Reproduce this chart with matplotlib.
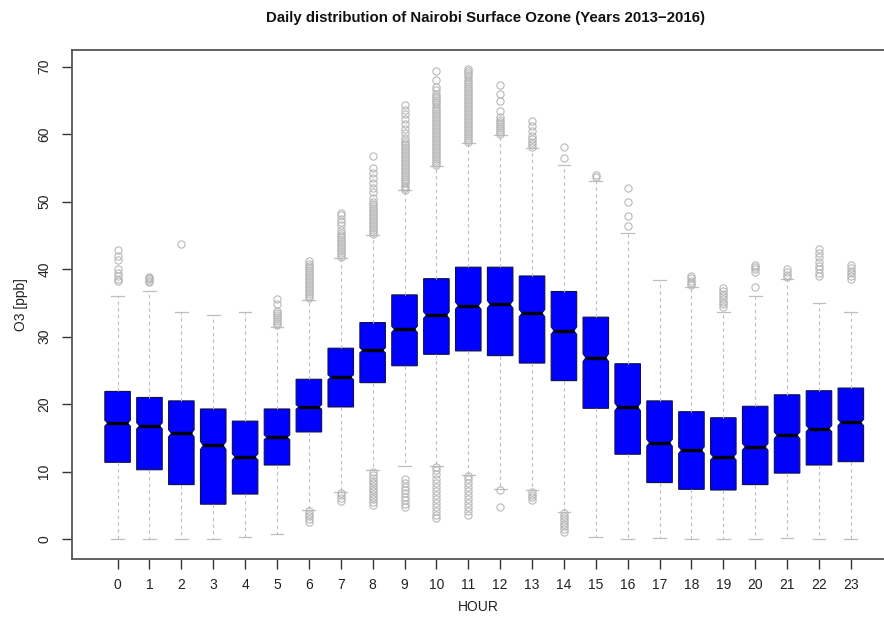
import matplotlib.pyplot as plt
import numpy as np

plt.rcParams['font.family'] = ['Liberation Sans', 'DejaVu Sans']

# hourly summary of surface ozone [ppb]
hours = list(range(24))
q1 = [11.4, 10.3, 8.1, 5.2, 6.7, 11.0, 15.9, 19.6, 23.2, 25.7, 27.4, 27.9,
      27.2, 26.1, 23.5, 19.4, 12.6, 8.4, 7.4, 7.3, 8.1, 9.8, 11.0, 11.5]
med = [17.2, 16.8, 15.7, 13.9, 12.2, 15.1, 19.6, 24.0, 28.0, 31.1, 33.2, 34.6,
       34.8, 33.5, 30.9, 26.9, 19.6, 14.3, 13.2, 12.2, 13.7, 15.4, 16.4, 17.3]
q3 = [21.9, 21.0, 20.5, 19.3, 17.5, 19.3, 23.7, 28.3, 32.1, 36.2, 38.6, 40.3,
      40.3, 39.0, 36.7, 32.9, 26.0, 20.5, 18.9, 18.0, 19.7, 21.4, 22.0, 22.4]
whisker_low = [0.0, 0.0, 0.0, 0.0, 0.3, 0.8, 4.4, 7.0, 10.2, 10.8, 10.9, 9.5,
               7.4, 7.3, 4.0, 0.3, 0.0, 0.15, 0.0, 0.0, 0.0, 0.15, 0.0, 0.0]
whisker_high = [36.1, 36.8, 33.6, 33.2, 33.6, 31.5, 35.4, 41.6, 45.1, 51.7, 55.3, 58.7,
                59.9, 57.9, 55.5, 53.1, 45.4, 38.4, 37.4, 33.6, 36.1, 38.5, 35.0, 33.6]
n_obs = 1400  # roughly one value per day over four years

upper_outliers = [
    [38.2, 38.6, 39.0, 39.5, 40.0, 41.3, 42.0, 42.8],
    [38.1, 38.3, 38.5, 38.7, 38.9],
    [43.7],
    [],
    [],
    [31.7, 32.0, 32.3, 32.6, 32.9, 33.2, 33.5, 33.8, 34.9, 35.6],
    [35.7, 36.0, 36.3, 36.6, 36.9, 37.2, 37.5, 37.8, 38.1, 38.4, 38.7, 39.0,
     39.3, 39.6, 39.9, 40.2, 40.5, 40.8, 41.2],
    [41.8, 42.1, 42.4, 42.7, 43.0, 43.3, 43.6, 43.9, 44.2, 44.5, 44.8, 45.1,
     45.4, 45.8, 46.6, 47.0, 47.5, 48.0, 48.4],
    [45.2, 45.5, 45.8, 46.1, 46.4, 46.7, 47.0, 47.3, 47.6, 47.9, 48.2, 48.5,
     48.8, 49.1, 49.4, 49.7, 50.0, 50.6, 51.4, 52.0, 52.8, 53.5, 54.3, 55.0, 56.7],
    [51.8, 52.1, 52.4, 52.7, 53.0, 53.3, 53.6, 53.9, 54.2, 54.5, 54.8, 55.1,
     55.4, 55.7, 56.0, 56.3, 56.6, 56.9, 57.2, 57.5, 57.8, 58.1, 58.4, 58.7,
     59.0, 59.5, 60.2, 60.8, 61.5, 62.3, 63.0, 63.6, 64.3],
    [55.4, 55.7, 56.0, 56.3, 56.6, 56.9, 57.2, 57.5, 57.8, 58.1, 58.4, 58.7,
     59.0, 59.3, 59.6, 59.9, 60.2, 60.5, 60.8, 61.1, 61.4, 61.7, 62.0, 62.3,
     62.6, 62.9, 63.2, 63.5, 63.8, 64.1, 64.4, 64.7, 65.0, 65.3, 65.6, 66.0,
     66.5, 67.0, 68.0, 69.4],
    [58.8, 59.1, 59.4, 59.7, 60.0, 60.3, 60.6, 60.9, 61.2, 61.5, 61.8, 62.1,
     62.4, 62.7, 63.0, 63.3, 63.6, 63.9, 64.2, 64.5, 64.8, 65.1, 65.4, 65.7,
     66.0, 66.3, 66.6, 66.9, 67.2, 67.5, 67.8, 68.1, 68.4, 68.7, 69.0, 69.3, 69.7],
    [60.0, 60.3, 60.6, 60.9, 61.2, 61.5, 61.8, 62.1, 62.5, 63.4, 64.9, 66.0, 67.3],
    [58.1, 58.5, 58.9, 59.3, 59.7, 60.4, 61.2, 62.0],
    [56.5, 58.1],
    [53.6, 54.0],
    [46.4, 47.9, 50.0, 52.0],
    [],
    [37.6, 38.0, 38.3, 38.7, 39.0],
    [34.4, 34.8, 35.2, 35.6, 36.0, 36.4, 36.8, 37.2],
    [37.4, 39.6, 40.0, 40.3, 40.6],
    [38.8, 39.2, 39.6, 40.0],
    [39.0, 39.5, 40.0, 40.5, 41.1, 41.8, 42.4, 43.0],
    [38.6, 39.0, 39.4, 39.8, 40.2, 40.6],
]
lower_outliers = [
    [], [], [], [], [], [],
    [2.6, 3.0, 3.4, 3.8, 4.2],
    [5.7, 6.1, 6.5, 6.8],
    [5.1, 5.5, 5.9, 6.3, 6.7, 7.1, 7.5, 7.9, 8.3, 8.7, 9.1, 9.5, 9.9],
    [4.8, 5.3, 5.8, 6.3, 6.8, 7.3, 7.8, 8.3, 8.9],
    [3.1, 3.6, 4.2, 4.8, 5.4, 6.0, 6.6, 7.2, 7.8, 8.4, 9.0, 9.6, 10.2, 10.7],
    [3.6, 4.2, 4.8, 5.4, 6.0, 6.6, 7.2, 7.8, 8.4, 9.0, 9.4],
    [4.8, 7.3],
    [5.8, 6.2, 6.6, 7.0],
    [1.1, 1.5, 1.9, 2.3, 2.7, 3.1, 3.5, 3.9],
    [], [], [], [], [], [], [], [], [],
]

stats = []
for i in range(len(hours)):
    notch = 1.58 * (q3[i] - q1[i]) / np.sqrt(n_obs)
    stats.append({
        'med': med[i], 'q1': q1[i], 'q3': q3[i],
        'whislo': whisker_low[i], 'whishi': whisker_high[i],
        'cilo': med[i] - notch, 'cihi': med[i] + notch,
        'fliers': upper_outliers[i] + lower_outliers[i],
    })

fig = plt.figure(figsize=(8.84, 6.21), dpi=100)
ax = fig.add_axes([72 / 884, 1 - 559 / 621, 1 - 72 / 884, (559 - 50) / 621])

grey = '#bdbdbd'
width = 0.8
parts = ax.bxp(stats, positions=hours, widths=width, capwidths=0.4,
               shownotches=True, patch_artist=True,
               boxprops=dict(facecolor='#0000ff', edgecolor='#10104a', linewidth=0.8),
               whiskerprops=dict(color=grey, linestyle=(0, (3, 3)), linewidth=0.8),
               capprops=dict(color=grey, linewidth=0.9),
               medianprops=dict(color='black', linewidth=2.4),
               flierprops=dict(marker='o', markerfacecolor='none',
                               markeredgecolor='#b8b8b8', markersize=5.2,
                               markeredgewidth=0.8))

# shallower notches and wider median bar, closer to R's look
half = width / 2
for pos, box, mline in zip(hours, parts['boxes'], parts['medians']):
    verts = box.get_path().vertices
    verts[3, 0] = pos + 0.78 * half
    verts[8, 0] = pos - 0.78 * half
    mline.set_xdata([pos - 0.8 * half, pos + 0.8 * half])

ax.set_xlim(-1.43, 24.04)
ax.set_ylim(-2.92, 72.47)
ax.set_xticks(hours)
ax.set_xticklabels([str(h) for h in hours])
ax.set_yticks(range(0, 71, 10))
ax.tick_params(axis='both', length=7, width=1.0, color='#333333',
               labelsize=10, labelcolor='#222222')
ax.tick_params(axis='x', pad=7)
ax.tick_params(axis='y', pad=8)
for lab in ax.get_yticklabels():
    lab.set_rotation(90)
    lab.set_va('center')

ax.spines['right'].set_visible(False)
for side in ['left', 'top', 'bottom']:
    ax.spines[side].set_color('#555555')
    ax.spines[side].set_linewidth(1.3)

fig.text(485 / 884, 1 - 18 / 621, 'Daily distribution of Nairobi Surface Ozone (Years 2013\u22122016)',
         ha='center', va='center', fontsize=10.8, fontweight='bold', color='#111111')
fig.text(21 / 884, 1 - 305 / 621, 'O3 [ppb]', rotation=90, ha='center', va='center',
         fontsize=10, color='#222222')
fig.text(478 / 884, 1 - 607 / 621, 'HOUR', ha='center', va='center',
         fontsize=10, color='#222222')

fig.savefig('out.png', dpi=100)
